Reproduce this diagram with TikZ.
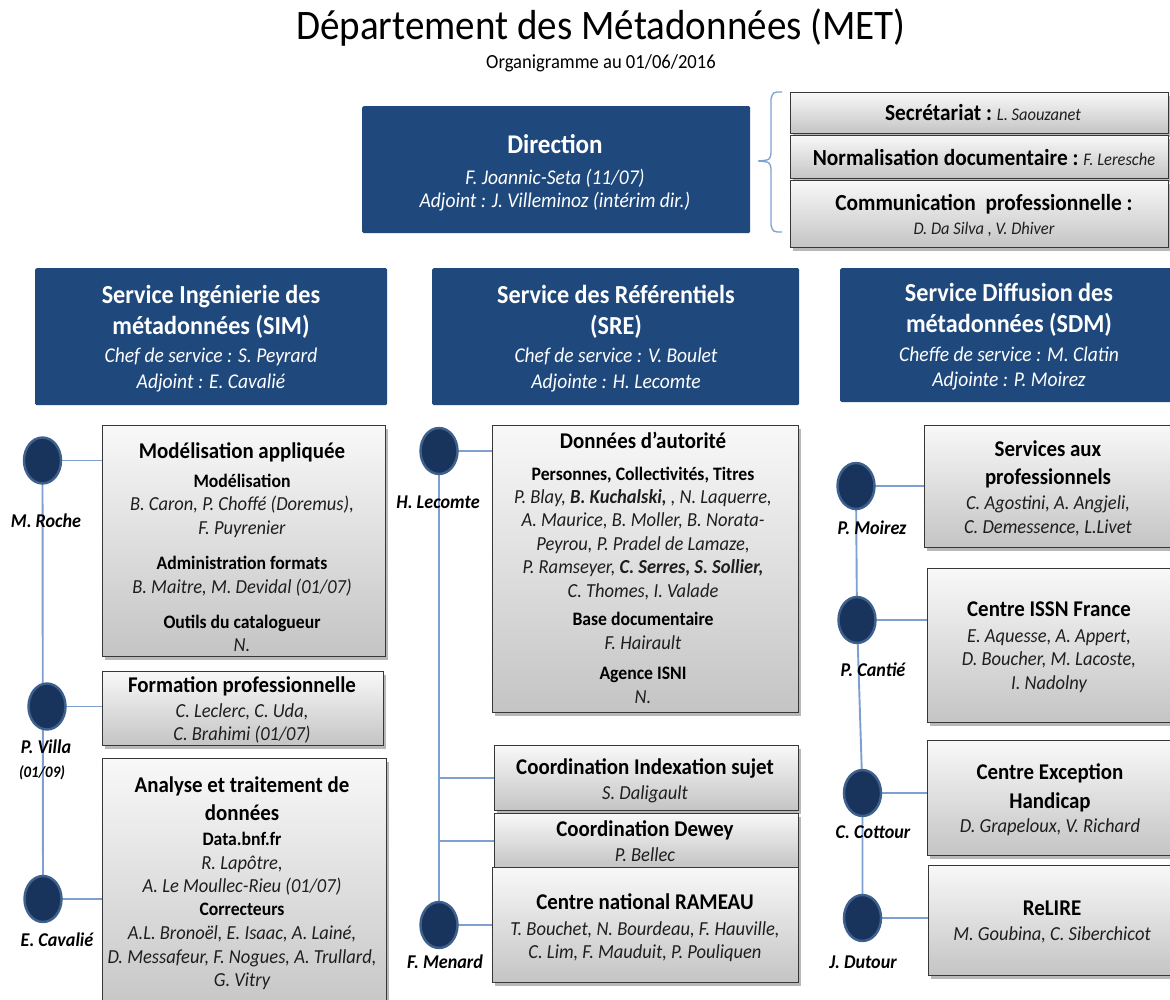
\documentclass[tikz,border=0pt]{standalone}
\usepackage{fontspec}
\setmainfont{Carlito}[UprightFeatures={FakeStretch=0.93},BoldFeatures={FakeStretch=0.93},ItalicFeatures={FakeStretch=0.93},BoldItalicFeatures={FakeStretch=0.93}]
\usetikzlibrary{shapes.geometric,shadows}
\pgfdeclarelayer{bg}
\pgfsetlayers{bg,main}
\definecolor{dirblue}{RGB}{31,73,125}
\definecolor{connblue}{RGB}{125,160,208}
\definecolor{circfill}{RGB}{24,52,92}
\definecolor{circline}{RGB}{62,96,140}
\definecolor{boxtop}{RGB}{248,248,248}
\definecolor{boxbot}{RGB}{196,196,196}
\definecolor{boxline}{RGB}{55,55,55}
\definecolor{nametxt}{RGB}{30,30,30}
\newcommand\fsz[1]{\fontsize{#1}{#1}\selectfont}
\begin{document}
\begin{tikzpicture}[x=1pt,y=-1pt,
  bluebox/.style={fill=dirblue,draw=none,rounded corners=1.5pt,anchor=north west,inner sep=0pt},
  greybox/.style={top color=boxtop,bottom color=boxbot,draw=boxline,line width=1.3pt,anchor=north west,inner sep=0pt,
    drop shadow={shadow xshift=2pt,shadow yshift=-3pt,fill=black,opacity=0.28}},
  dot/.style={ellipse,fill=circfill,draw=circline,line width=2.4pt,minimum width=37,minimum height=46,inner sep=0pt},
  conn/.style={draw=connblue,line width=1.9pt},
  txt/.style={inner sep=0pt,text depth=0pt,anchor=center},
  ttl/.style={txt,font=\fsz{42},text height=27pt},
  subt/.style={txt,font=\fsz{20},text height=12.9pt},
  dirh/.style={txt,font=\fsz{27}\bfseries,text=white,text height=17.4pt},
  svh/.style={txt,font=\fsz{26}\bfseries,text=white,text height=16.7pt},
  wit/.style={txt,font=\fsz{21}\itshape,text=white,text height=13.5pt},
  rtb/.style={txt,font=\fsz{23}\bfseries,text height=14.8pt},
  rti/.style={txt,font=\fsz{17.7}\itshape,text=nametxt,text height=11.4pt},
  bxt/.style={txt,font=\fsz{22.5}\bfseries,text height=14.5pt},
  bxs/.style={txt,font=\fsz{19}\bfseries,text height=12.2pt},
  nm/.style={txt,font=\fsz{19.9}\itshape,text=nametxt,text height=12.8pt},
  lab/.style={txt,font=\fsz{19.5}\bfseries\itshape,text height=12.6pt},
  labs/.style={txt,font=\fsz{16}\bfseries\itshape,text height=10.3pt}
]
\useasboundingbox (0,0) rectangle (1170,1000);
\begin{pgfonlayer}{bg}
  \fill[white] (0,0) rectangle (1170,1000);
\end{pgfonlayer}

% ---------- title ----------
\node[ttl] (title) at (601,26) {Département des Métadonnées (MET)};
\node[subt] (subtitle) at (601,62) {Organigramme au 01/06/2016};

% ---------- direction ----------
\node[bluebox,minimum width=388,minimum height=127] (dir) at (362,106) {};
\node[dirh] (dir1) at (555,145) {Direction};
\node[wit] (dir2) at (555,178) {F. Joannic-Seta (11/07)};
\node[wit] (dir3) at (555,201) {Adjoint : J. Villeminoz (intérim dir.)};

% brace
\draw[connblue,line width=1.3pt] (782,92) .. controls (773,92) .. (771,99) -- (771,153)
  .. controls (770,160) .. (758,161) .. controls (770,162) .. (771,169) -- (771,225)
  .. controls (773,232) .. (782,232);

% ---------- secretariat etc. ----------
\node[greybox,minimum width=378,minimum height=41] (sec) at (790,92) {};
\node[greybox,minimum width=378,minimum height=43] (norm) at (790,135) {};
\node[greybox,minimum width=378,minimum height=67] (com) at (790,180) {};
\node[rtb] (sec1) at (983,113) {Secrétariat :\ {\fsz{17.7}\mdseries\itshape\color{nametxt}L. Saouzanet}};
\node[rtb] (norm1) at (984,158) {Normalisation documentaire :\ {\fsz{17.7}\mdseries\itshape\color{nametxt}F. Leresche}};
\node[rtb] (com1) at (984,203) {Communication\ \ professionnelle :};
\node[rti] (com2) at (984,229) {D. Da Silva , V. Dhiver};

% ---------- services ----------
\node[bluebox,minimum width=352,minimum height=137] (sim) at (35,268) {};
\node[bluebox,minimum width=367,minimum height=137] (sre) at (432,268) {};
\node[bluebox,minimum width=345,minimum height=134] (sdm) at (840,268) {};

\node[svh] (sim1) at (211,295) {Service Ingénierie des};
\node[svh] (sim2) at (211,326) {métadonnées (SIM)};
\node[wit] (sim3) at (211,356) {Chef de service : S. Peyrard};
\node[wit] (sim4) at (211,382) {Adjoint : E. Cavalié};

\node[svh] (sre1) at (616,295) {Service des Référentiels};
\node[svh] (sre2) at (616,326) {(SRE)};
\node[wit] (sre3) at (616,356) {Chef de service : V. Boulet};
\node[wit] (sre4) at (616,382) {Adjointe : H. Lecomte};

\node[svh] (sdm1) at (1009,293) {Service Diffusion des};
\node[svh] (sdm2) at (1009,324) {métadonnées (SDM)};
\node[wit] (sdm3) at (1009,355) {Cheffe de service : M. Clatin};
\node[wit] (sdm4) at (1009,380) {Adjointe : P. Moirez};

% ---------- left column ----------
\node[greybox,minimum width=283,minimum height=231] (ma) at (102,425) {};
\node[greybox,minimum width=281,minimum height=74] (fp) at (102,671) {};
\node[greybox,minimum width=284,minimum height=260] (an) at (102,758) {};

\node[dot] (mr) at (42.5,460.5) {};
\node[dot] (pv) at (47,706.5) {};
\node[dot] (ec) at (43,899) {};

\begin{pgfonlayer}{bg}
  \draw[conn] (mr.center) -- (ec.center);
  \draw[conn] (mr.center) -- (mr.center -| ma.west);
  \draw[conn] (pv.center) -- (pv.center -| fp.west);
  \draw[conn] (ec.center) -- (ec.center -| an.west);
\end{pgfonlayer}

\node[lab] (mrl) at (46,521) {M. Roche};
\node[lab] (pvl) at (46,747) {P. Villa};
\node[labs] (pvd) at (42,772) {(01/09)};
\node[lab] (ecl) at (57,940) {E. Cavalié};

\node[bxt] (ma1) at (242,451) {Modélisation appliquée};
\node[bxs] (ma2) at (242,481) {Modélisation};
\node[nm] (ma3) at (242,504) {B. Caron, P. Choffé (Doremus),};
\node[nm] (ma4) at (242,528) {F. Puyrenier};
\node[bxs] (ma5) at (242,563) {Administration formats};
\node[nm] (ma6) at (242,587) {B. Maitre, M. Devidal (01/07)};
\node[bxs] (ma7) at (242,622) {Outils du catalogueur};
\node[nm] (ma8) at (242,645) {N.};

\node[bxt] (fp1) at (242,685) {Formation professionnelle};
\node[nm] (fp2) at (242,711) {C. Leclerc, C. Uda,};
\node[nm] (fp3) at (242,734) {C. Brahimi (01/07)};

\node[bxt] (an1) at (242,785) {Analyse et traitement de};
\node[bxt] (an2) at (242,813) {données};
\node[bxs] (an3) at (242,839) {Data.bnf.fr};
\node[nm] (an4) at (242,863) {R. Lapôtre,};
\node[nm] (an5) at (242,886) {A. Le Moullec-Rieu (01/07)};
\node[bxs] (an6) at (242,909) {Correcteurs};
\node[nm] (an7) at (242,933) {A.L. Bronoël, E. Isaac, A. Lainé,};
\node[nm] (an8) at (242,957) {D. Messafeur, F. Nogues, A. Trullard,};
\node[nm] (an9) at (242,980) {G. Vitry};

% ---------- middle column ----------
\node[greybox,minimum width=306,minimum height=287] (da) at (492,425) {};
\node[greybox,minimum width=304,minimum height=65] (ci) at (494,745) {};
\node[greybox,minimum width=304,minimum height=54] (cd) at (494,813) {};
\node[greybox,minimum width=306,minimum height=115] (cr) at (492,867) {};

\node[dot] (hl) at (439,451) {};
\node[dot] (fm) at (439,925) {};

\begin{pgfonlayer}{bg}
  \draw[conn] (hl.center) -- (fm.center);
  \draw[conn] (hl.center) -- (hl.center -| da.west);
  \draw[conn] (ci.west -| hl.center) -- (ci.west);
  \draw[conn] (cd.west -| hl.center) -- (cd.west);
  \draw[conn] (fm.center) -- (fm.center -| cr.west);
\end{pgfonlayer}

\node[lab] (hll) at (438,502) {H. Lecomte};
\node[lab] (fml) at (445,962) {F. Menard};

\node[bxt] (da1) at (643,441) {Données d’autorité};
\node[bxs] (da2) at (643,474) {Personnes, Collectivités, Titres};
\node[nm] (da3) at (643,497) {P. Blay, {\bfseries B. Kuchalski,} , N. Laquerre,};
\node[nm] (da4) at (643,520) {A. Maurice, B. Moller, B. Norata-};
\node[nm] (da5) at (643,544) {Peyrou, P. Pradel de Lamaze,};
\node[nm] (da6) at (643,567) {P. Ramseyer, {\bfseries C. Serres, S. Sollier,}};
\node[nm] (da7) at (643,591) {C. Thomes, I. Valade};
\node[bxs] (da8) at (643,619) {Base documentaire};
\node[nm] (da9) at (643,643) {F. Hairault};
\node[bxs] (da10) at (643,673) {Agence ISNI};
\node[nm] (da11) at (643,697) {N.};

\node[bxt] (ci1) at (645,767) {Coordination Indexation sujet};
\node[nm] (ci2) at (645,793) {S. Daligault};
\node[bxt] (cd1) at (645,829) {Coordination Dewey};
\node[nm] (cd2) at (645,855) {P. Bellec};
\node[bxt] (cr1) at (645,902) {Centre national RAMEAU};
\node[nm] (cr2) at (645,929) {T. Bouchet, N. Bourdeau, F. Hauville,};
\node[nm] (cr3) at (645,952) {C. Lim, F. Mauduit, P. Pouliquen};

% ---------- right column ----------
\node[greybox,minimum width=252,minimum height=122] (sp) at (924,425) {};
\node[greybox,minimum width=250,minimum height=154] (is) at (927,568) {};
\node[greybox,minimum width=250,minimum height=115] (ce) at (927,740) {};
\node[greybox,minimum width=249,minimum height=110] (rl) at (928,865) {};

\node[dot] (pm) at (856,486) {};
\node[dot] (pc) at (857,620) {};
\node[dot] (cc) at (862.5,793) {};
\node[dot] (jd) at (862.5,918) {};

\begin{pgfonlayer}{bg}
  \draw[conn] (pm.center) -- (pc.center) -- (cc.center) -- (jd.center);
  \draw[conn] (pm.center) -- (pm.center -| sp.west);
  \draw[conn] (pc.center) -- (pc.center -| is.west);
  \draw[conn] (cc.center) -- (cc.center -| ce.west);
  \draw[conn] (jd.center) -- (jd.center -| rl.west);
\end{pgfonlayer}

\node[lab] (pml) at (872,528) {P. Moirez};
\node[lab] (pcl) at (873,670) {P. Cantié};
\node[lab] (ccl) at (873,832) {C. Cottour};
\node[lab] (jdl) at (863,962) {J. Dutour};

\node[bxt] (sp1) at (1048,449) {Services aux};
\node[bxt] (sp2) at (1048,477) {professionnels};
\node[nm] (sp3) at (1048,503) {C. Agostini, A. Angjeli,};
\node[nm] (sp4) at (1048,527) {C. Demessence, L.Livet};

\node[bxt] (is1) at (1049,609) {Centre ISSN France};
\node[nm] (is2) at (1049,636) {E. Aquesse, A. Appert,};
\node[nm] (is3) at (1049,659) {D. Boucher, M. Lacoste,};
\node[nm] (is4) at (1049,683) {I. Nadolny};

\node[bxt] (ce1) at (1050,772) {Centre Exception};
\node[bxt] (ce2) at (1050,801) {Handicap};
\node[nm] (ce3) at (1050,826) {D. Grapeloux, V. Richard};

\node[bxt] (rl1) at (1052,908) {ReLIRE};
\node[nm] (rl2) at (1052,934) {M. Goubina, C. Siberchicot};
\end{tikzpicture}
\end{document}
